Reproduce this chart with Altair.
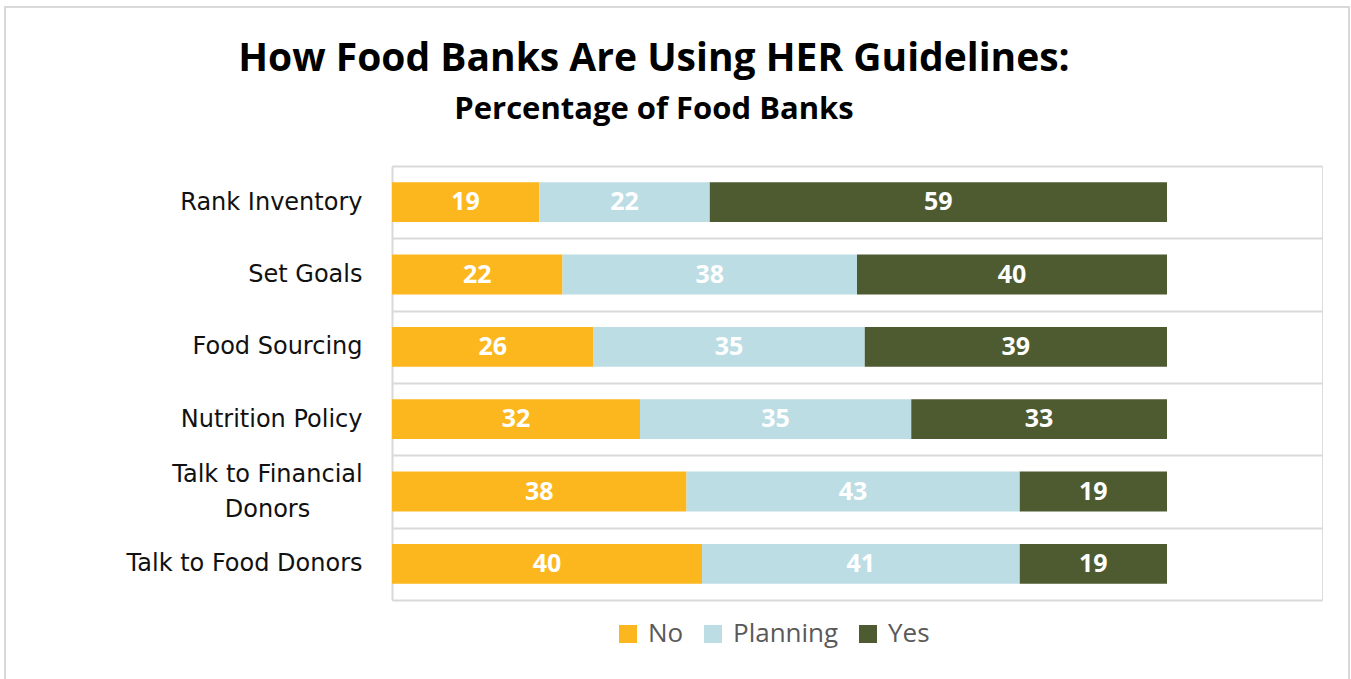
import altair as alt
import pandas as pd

categories = ["Rank Inventory", "Set Goals", "Food Sourcing", "Nutrition Policy",
              "Talk to Financial Donors", "Talk to Food Donors"]
series = ["No", "Planning", "Yes"]
no_vals = [19, 22, 26, 32, 38, 40]
planning_vals = [22, 38, 35, 35, 43, 41]
yes_vals = [59, 40, 39, 33, 19, 19]
colors = ["#FDB71E", "#BCDDE4", "#4E5B31"]

rows = []
for i, cat in enumerate(categories):
    start = 0
    for s, vals in zip(series, [no_vals, planning_vals, yes_vals]):
        v = vals[i]
        rows.append({"cat": cat, "series": s, "value": v, "start": start,
                     "end": start + v, "mid": start + v / 2})
        start += v
df = pd.DataFrame(rows)

wrapped = "datum.value == 'Talk to Financial Donors'"

x_scale = alt.Scale(domain=[0, 120], nice=False)
y_enc = alt.Y("cat:N", sort=categories, title=None,
              scale=alt.Scale(paddingInner=0, paddingOuter=0),
              axis=alt.Axis(grid=True, tickBand="extent", gridColor="#D9D9D9", gridWidth=2,
                            domainColor="#D9D9D9", domainWidth=2, ticks=False,
                            labelFont="DejaVu Sans", labelFontSize=24, labelColor="#111111",
                            labelPadding={"condition": {"test": wrapped, "value": 125}, "value": 30},
                            labelAlign={"condition": {"test": wrapped, "value": "center"}, "value": "right"},
                            labelOffset={"condition": {"test": wrapped, "value": -17}, "value": 0},
                            labelLineHeight=35, labelLimit=400,
                            labelExpr="datum.value == 'Talk to Financial Donors' ? ['Talk to Financial', 'Donors'] : datum.label"))

border = alt.Chart(df).mark_rect(fill=None, stroke="#D9D9D9", strokeWidth=2).encode(
    x=alt.value(-387), x2=alt.value(957), y=alt.value(-159), y2=alt.value(600)
)

bars = alt.Chart(df).mark_bar(height={"band": 0.55}).encode(
    x=alt.X("start:Q", scale=x_scale, axis=None),
    x2="end:Q",
    y=y_enc,
    color=alt.Color("series:N", scale=alt.Scale(domain=series, range=colors),
                    legend=alt.Legend(title=None, orient="none", direction="horizontal",
                                      legendX=223, legendY=455, symbolType="square",
                                      symbolSize=324, symbolStrokeWidth=0,
                                      labelFont="Open Sans", labelFontSize=26,
                                      labelColor="#595959", labelOffset=7,
                                      columnPadding=16)),
)

labels = alt.Chart(df).mark_text(color="white", font="Open Sans", fontWeight="bold",
                                 fontSize=25, baseline="middle", align="center").encode(
    x=alt.X("mid:Q", scale=x_scale, axis=None),
    y=alt.Y("cat:N", sort=categories),
    text="value:Q",
)

chart = alt.layer(border, bars, labels).properties(
    width=930, height=434,
    title=alt.TitleParams(
        text="How Food Banks Are Using HER Guidelines:",
        subtitle="Percentage of Food Banks",
        anchor="middle", frame="group", dx=-203, offset=-119,
        font="Open Sans", fontSize=39, fontWeight="bold", color="#000000",
        subtitleFont="Open Sans", subtitleFontSize=31, subtitleFontWeight="bold",
        subtitleColor="#000000", subtitlePadding=16,
    ),
    autosize=alt.AutoSizeParams(type="none"),
    padding={"left": 392, "top": 166, "right": 29, "bottom": 79},
).configure_view(stroke=None).configure(background="white")

chart.save("out.html", embed_options={"renderer": "svg", "actions": False})
